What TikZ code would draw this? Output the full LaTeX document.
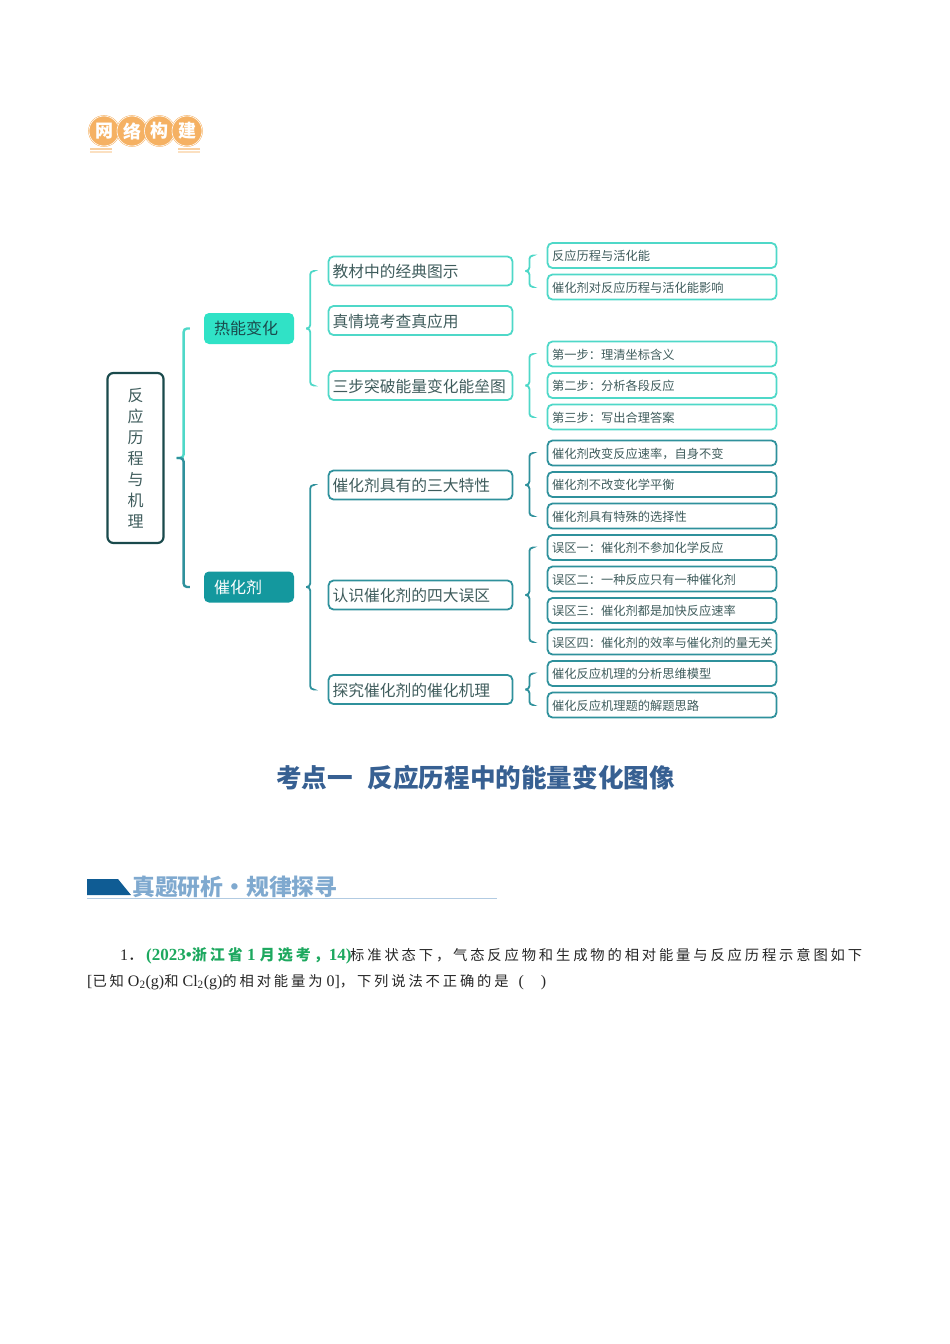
\documentclass[tikz,border=0pt]{standalone}
\usepackage{fontspec}
\setmainfont{Liberation Serif}
\newfontfamily\cjk{Noto Sans CJK SC}
\newfontfamily\cjkwide[LetterSpace=20]{Noto Sans CJK SC}
\usetikzlibrary{calc}
\definecolor{turq}{HTML}{4FD8C8}
\definecolor{teal2}{HTML}{2F919C}
\definecolor{rootline}{HTML}{1A4A4C}
\definecolor{nodetext}{HTML}{3F5C5C}
\definecolor{titleblue}{HTML}{376092}
\definecolor{headblue}{HTML}{7FA9CF}
\definecolor{darkblue}{HTML}{0F5C94}
\definecolor{greenref}{HTML}{1DA85F}
\definecolor{logoorange}{HTML}{F5B163}
\definecolor{heatfill}{HTML}{30E2C6}
\definecolor{catfill}{HTML}{14989E}
\tikzset{
  midbox/.style={draw=#1,line width=1.8pt,rounded corners=5pt,minimum width=184pt,minimum height=29pt,
    inner xsep=0pt,inner ysep=0pt,text width=176pt,text height=14.4pt,text depth=1pt,align=left,text=nodetext,
    font=\cjk\fontsize{15.75}{18}\selectfont},
  leafbox/.style={draw=#1,line width=1.8pt,rounded corners=5pt,minimum width=229pt,minimum height=25pt,
    inner xsep=0pt,inner ysep=0pt,text width=220pt,text height=11.6pt,text depth=1pt,align=left,text=nodetext,
    font=\cjk\fontsize{12.25}{14}\selectfont},
  topicbox/.style={fill=#1,rounded corners=5pt,minimum width=90pt,minimum height=31pt,inner xsep=0pt,inner ysep=0pt,
    text width=70pt,align=left,font=\cjk\fontsize{16}{18}\selectfont},
  logoball/.style={circle,fill=logoorange,draw=logoorange,line width=0.5pt,double=white,double distance=0.6pt,
    minimum size=30pt,inner sep=0pt,text=white,font=\cjk\bfseries\fontsize{18}{20}\selectfont},
  bodytext/.style={anchor=west,inner sep=0pt,text=black!85,font=\fontsize{16}{18}\selectfont}
}
\newcommand{\halfbrace}[4]{
\draw [line width=1.8pt,rounded corners=3.5pt,#1] let \p1=(#2.east), \p2=(#3.west) in
  (\x2-14pt,\y2) -- (\x1+12pt+#4,\y2) -- (\x1+12pt+#4,\y1) -- (\x1+12pt,\y1);
}
\begin{document}
\begin{tikzpicture}[x=1pt,y=-1pt]
\useasboundingbox (0,0) rectangle (950,1344);

\node [logoball] (wang) at (104,131) {网};
\node [logoball] (luo) at (132,131) {络};
\node [logoball] (gou) at (159.5,131) {构};
\node [logoball] (jian) at (187,131) {建};
\fill [logoorange!60] (90,148) rectangle (112,149.5);
\fill [logoorange!40] (90,151) rectangle (112,152.5);
\fill [logoorange!60] (178,148) rectangle (200,149.5);
\fill [logoorange!40] (178,151) rectangle (200,152.5);

\node [draw=rootline,line width=2.2pt,rounded corners=6pt,minimum width=56pt,minimum height=170pt,inner sep=0pt,
  align=center,text=nodetext,font=\cjk\fontsize{16}{21}\selectfont] (root) at (135.5,458)
  {反\\应\\历\\程\\与\\机\\理};

\node [topicbox=heatfill,text=rootline] (heat) at (249,328.5) {热能变化};
\node [topicbox=catfill,text=white] (cat) at (249,587) {催化剂};

\node [midbox=turq] (jiaocai) at (420.5,271) {教材中的经典图示};
\node [midbox=turq] (zhen) at (420.5,320.5) {真情境考查真应用};
\node [midbox=turq] (sanbu) at (420.5,385.5) {三步突破能量变化能垒图};
\node [midbox=teal2] (tezheng) at (420.5,485) {催化剂具有的三大特性};
\node [midbox=teal2] (wuqu) at (420.5,595) {认识催化剂的四大误区};
\node [midbox=teal2] (jili) at (420.5,689.5) {探究催化剂的催化机理};

\node [leafbox=turq] (a1) at (662,255.5) {反应历程与活化能};
\node [leafbox=turq] (a2) at (662,287) {催化剂对反应历程与活化能影响};
\node [leafbox=turq] (b1) at (662,354) {第一步：理清坐标含义};
\node [leafbox=turq] (b2) at (662,385.5) {第二步：分析各段反应};
\node [leafbox=turq] (b3) at (662,417) {第三步：写出合理答案};
\node [leafbox=teal2] (c1) at (662,453) {催化剂改变反应速率，自身不变};
\node [leafbox=teal2] (c2) at (662,484.5) {催化剂不改变化学平衡};
\node [leafbox=teal2] (c3) at (662,516) {催化剂具有特殊的选择性};
\node [leafbox=teal2] (d1) at (662,547.5) {误区一：催化剂不参加化学反应};
\node [leafbox=teal2] (d2) at (662,579) {误区二：一种反应只有一种催化剂};
\node [leafbox=teal2] (d3) at (662,610.5) {误区三：催化剂都是加快反应速率};
\node [leafbox=teal2] (d4) at (662,642) {误区四：催化剂的效率与催化剂的量无关};
\node [leafbox=teal2] (e1) at (662,673.5) {催化反应机理的分析思维模型};
\node [leafbox=teal2] (e2) at (662,705) {催化反应机理题的解题思路};

\halfbrace{turq,line width=2.4pt}{root}{heat}{7pt}
\halfbrace{teal2,line width=2.4pt}{root}{cat}{7pt}
\halfbrace{turq}{heat}{jiaocai}{4pt}
\halfbrace{turq}{heat}{sanbu}{4pt}
\halfbrace{teal2}{cat}{tezheng}{4pt}
\halfbrace{teal2}{cat}{jili}{4pt}
\halfbrace{turq}{jiaocai}{a1}{4pt}
\halfbrace{turq}{jiaocai}{a2}{4pt}
\halfbrace{turq}{sanbu}{b1}{4pt}
\halfbrace{turq}{sanbu}{b3}{4pt}
\halfbrace{teal2}{tezheng}{c1}{4pt}
\halfbrace{teal2}{tezheng}{c3}{4pt}
\halfbrace{teal2}{wuqu}{d1}{4pt}
\halfbrace{teal2}{wuqu}{d4}{4pt}
\halfbrace{teal2}{jili}{e1}{4pt}
\halfbrace{teal2}{jili}{e2}{4pt}

\node [text=titleblue,inner sep=0pt,font=\cjk\bfseries\fontsize{25.6}{28}\selectfont] (title) at (475.5,777.5)
  {考点一\hspace{15pt}反应历程中的能量变化图像};

\fill [darkblue] (87,879) -- (118,879) -- (131,895) -- (87,895) -- cycle;
\draw [headblue!60,line width=1pt] (87,898) -- (497,898);
\node [anchor=west,inner sep=0pt,text=headblue,font=\cjk\bfseries\fontsize{22.8}{26}\selectfont] (head) at (132,886.5)
  {真题研析·规律探寻};

\node [bodytext] (num) at (120,955.5) {1\cjkwide．};
\node [anchor=west,inner sep=0pt,text=greenref,font=\bfseries\fontsize{17}{18}\selectfont] (src) at (146,955.5)
  {(2023•{\cjkwide\fontsize{15}{18}\selectfont 浙江省} 1 {\cjkwide\fontsize{15}{18}\selectfont 月选考，}14)};
\node [bodytext] (line1) at (350,955.5) {\cjkwide\fontsize{14.3}{18}\selectfont 标准状态下，气态反应物和生成物的相对能量与反应历程示意图如下};
\node [bodytext] (line2) at (87,982) {[{\cjkwide\fontsize{14.3}{18}\selectfont 已知} O\textsubscript{2}(g){\cjkwide\fontsize{14.3}{18}\selectfont 和} Cl\textsubscript{2}(g){\cjkwide\fontsize{14.3}{18}\selectfont 的相对能量为} 0]{\cjkwide\fontsize{14.3}{18}\selectfont ，下列说法不正确的是}\hspace{10pt}(\hspace{17pt})};
\end{tikzpicture}
\end{document}
